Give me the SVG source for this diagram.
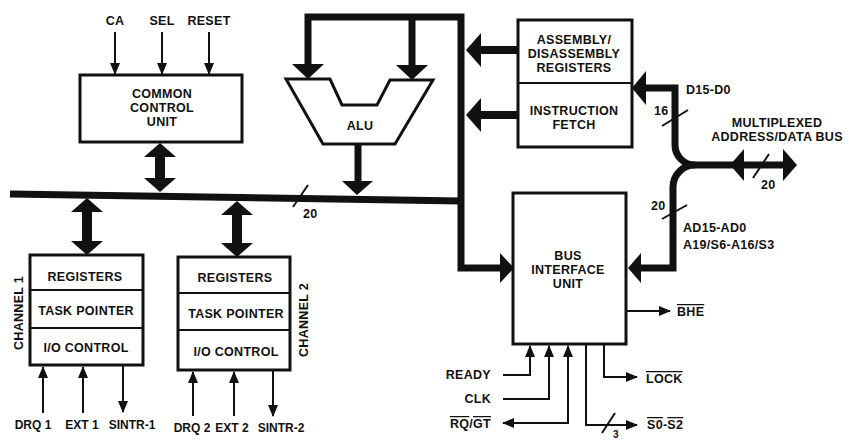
<svg xmlns="http://www.w3.org/2000/svg" width="848" height="440" viewBox="0 0 848 440">
<style>
.t{font-family:"Liberation Sans",Arial,sans-serif;font-weight:bold;font-size:12.5px;letter-spacing:0.3px;fill:#111}
.s{font-size:12px;letter-spacing:0}
.m{text-anchor:middle}
.e{text-anchor:end}
.box{fill:#fff;stroke:#111;stroke-width:3}
.div{stroke:#111;stroke-width:2}
.thin{fill:none;stroke:#111;stroke-width:2}
.bus{fill:none;stroke:#111;stroke-width:7}
.head{fill:#111}
.ov{text-decoration:overline}
</style>
<defs>
<marker id="ah" markerWidth="12" markerHeight="10" refX="11" refY="5" orient="auto-start-reverse" markerUnits="userSpaceOnUse"><path d="M0,0 L12,5 L0,10 Z" fill="#111"/></marker>
</defs>

<g id="connectors">
  <!-- main internal bus -->
  <line class="bus" x1="10" y1="194" x2="461" y2="201"/>
  <path class="bus" d="M308,66 V17 H461 V268 H501"/>
  <path class="bus" d="M412,17 V66"/>
  <polygon class="head" points="292,64 324,64 308,79"/>
  <polygon class="head" points="396,65 428,65 412,80"/>
  <polygon class="head" points="500,253 514,268 500,283"/>
  <!-- ALU output -->
  <path class="bus" d="M358,144 V182"/>
  <polygon class="head" points="342,181 373,181 357,195"/>
  <!-- bus slash 20 -->
  <line class="thin" x1="293" y1="207" x2="308" y2="185"/>
  <text class="t" x="303" y="218">20</text>
  <!-- CCU double arrow -->
  <polygon class="head" points="160,143 176,157 165,157 165,178 176,178 160,192 144,178 155,178 155,157 144,157"/>
  <!-- channel 1 double arrow -->
  <polygon class="head" points="87,198 103,212 92,212 92,241 103,241 87,255 71,241 82,241 82,212 71,212"/>
  <!-- channel 2 double arrow -->
  <polygon class="head" points="237,201 253,215 242,215 242,243 253,243 237,257 221,243 232,243 232,215 221,215"/>
  <!-- assembly / fetch arrows -->
  <path class="bus" d="M479,50 H518" style="stroke-width:8"/>
  <polygon class="head" points="481,33 466,50 481,67"/>
  <path class="bus" d="M479,115 H518" style="stroke-width:8"/>
  <polygon class="head" points="481,98 466,115 481,132"/>
  <!-- external bus -->
  <path class="bus" d="M644,88 H675 V145 A20,20 0 0 0 695,165 H784"/>
  <path class="bus" d="M695,165 A22,22 0 0 0 673,187 V268 H640"/>
  <polygon class="head" points="646,71 632,88 646,105"/>
  <polygon class="head" points="641,253 628,268 641,283"/>
  <polygon class="head" points="783,149 797,165 783,181"/>
  <polygon class="head" points="744,149 730,165 744,181"/>
  <line class="thin" x1="662" y1="126" x2="688" y2="110"/>
  <line class="thin" x1="662" y1="219" x2="687" y2="205"/>
  <line class="thin" x1="753" y1="178" x2="769" y2="154"/>
  <!-- CCU inputs -->
  <line class="thin" x1="115" y1="32" x2="115" y2="74" marker-end="url(#ah)"/>
  <line class="thin" x1="162" y1="32" x2="162" y2="74" marker-end="url(#ah)"/>
  <line class="thin" x1="209" y1="32" x2="209" y2="74" marker-end="url(#ah)"/>
  <!-- channel 1 signals -->
  <line class="thin" x1="43" y1="413" x2="43" y2="367" marker-end="url(#ah)"/>
  <line class="thin" x1="83" y1="413" x2="83" y2="367" marker-end="url(#ah)"/>
  <line class="thin" x1="123" y1="366" x2="123" y2="412" marker-end="url(#ah)"/>
  <!-- channel 2 signals -->
  <line class="thin" x1="193" y1="416" x2="193" y2="372" marker-end="url(#ah)"/>
  <line class="thin" x1="234" y1="416" x2="234" y2="372" marker-end="url(#ah)"/>
  <line class="thin" x1="273" y1="371" x2="273" y2="416" marker-end="url(#ah)"/>
  <!-- BIU signals -->
  <path class="thin" d="M503,375 H530 V346" marker-end="url(#ah)"/>
  <path class="thin" d="M503,399 H549 V346" marker-end="url(#ah)"/>
  <path class="thin" d="M503,423 H568 V346" marker-start="url(#ah)" marker-end="url(#ah)"/>
  <path class="thin" d="M586,345 V425 H637" marker-end="url(#ah)"/>
  <path class="thin" d="M604,345 V377 H637" marker-end="url(#ah)"/>
  <path class="thin" d="M627,311 H670" marker-end="url(#ah)"/>
  <line class="thin" x1="602" y1="433" x2="615" y2="413"/>
  <text class="t" x="613" y="438" style="font-size:10px">3</text>
</g>

<g id="ccu">
  <rect class="box" x="80" y="75" width="162" height="67"/>
  <text class="t m" x="162" y="98">COMMON</text>
  <text class="t m" x="162" y="112">CONTROL</text>
  <text class="t m" x="162" y="126">UNIT</text>
  <text class="t m" x="115" y="25">CA</text>
  <text class="t m" x="162" y="25">SEL</text>
  <text class="t m" x="209" y="25">RESET</text>
</g>

<g id="alu">
  <polygon points="286,79 330,79 342,105 377,105 390,80 433,80 395,144 323,144" fill="#fff" stroke="#111" stroke-width="3" stroke-linejoin="miter"/>
  <text class="t m" x="360" y="130">ALU</text>
</g>

<g id="assembly">
  <rect class="box" x="518" y="20" width="114" height="127"/>
  <line class="div" x1="518" y1="83" x2="632" y2="83"/>
  <text class="t m" x="574" y="44">ASSEMBLY/</text>
  <text class="t m" x="574" y="58">DISASSEMBLY</text>
  <text class="t m" x="574" y="72">REGISTERS</text>
  <text class="t m" x="574" y="115">INSTRUCTION</text>
  <text class="t m" x="574" y="129">FETCH</text>
</g>

<g id="biu">
  <rect class="box" x="513" y="193" width="113" height="151"/>
  <text class="t m" x="568" y="260">BUS</text>
  <text class="t m" x="568" y="274">INTERFACE</text>
  <text class="t m" x="568" y="288">UNIT</text>
  <text class="t" x="677" y="316"><tspan class="ov">BHE</tspan></text>
  <text class="t e" x="491" y="379">READY</text>
  <text class="t e" x="491" y="403">CLK</text>
  <text class="t e" x="491" y="428"><tspan class="ov">RQ</tspan>/<tspan class="ov">GT</tspan></text>
  <text class="t" x="646" y="383"><tspan class="ov">LOCK</tspan></text>
  <text class="t" x="647" y="429"><tspan class="ov">S0</tspan>-<tspan class="ov">S2</tspan></text>
</g>

<g id="extbus">
  <text class="t" x="686" y="94">D15-D0</text>
  <text class="t" x="654" y="115">16</text>
  <text class="t m" x="777" y="127">MULTIPLEXED</text>
  <text class="t m" x="777" y="141">ADDRESS/DATA BUS</text>
  <text class="t" x="761" y="189">20</text>
  <text class="t" x="651" y="210">20</text>
  <text class="t" x="683" y="232">AD15-AD0</text>
  <text class="t" x="683" y="249">A19/S6-A16/S3</text>
</g>

<g id="channel1">
  <rect class="box" x="30" y="255" width="113" height="110"/>
  <line class="div" x1="30" y1="290" x2="143" y2="290"/>
  <line class="div" x1="30" y1="328" x2="143" y2="328"/>
  <text class="t m" x="85" y="281">REGISTERS</text>
  <text class="t m" x="86" y="315">TASK POINTER</text>
  <text class="t m" x="86" y="352">I/O CONTROL</text>
  <text class="t m" transform="translate(23,313) rotate(-90)">CHANNEL 1</text>
  <text class="t s m" x="33" y="429">DRQ 1</text>
  <text class="t s m" x="82" y="429">EXT 1</text>
  <text class="t s m" x="132" y="429">SINTR-1</text>
</g>

<g id="channel2">
  <rect class="box" x="178" y="257" width="112" height="113"/>
  <line class="div" x1="178" y1="293" x2="290" y2="293"/>
  <line class="div" x1="178" y1="330" x2="290" y2="330"/>
  <text class="t m" x="235" y="282">REGISTERS</text>
  <text class="t m" x="236" y="318">TASK POINTER</text>
  <text class="t m" x="236" y="356">I/O CONTROL</text>
  <text class="t m" transform="translate(308,320) rotate(-90)">CHANNEL 2</text>
  <text class="t s m" x="192" y="432">DRQ 2</text>
  <text class="t s m" x="232" y="432">EXT 2</text>
  <text class="t s m" x="281" y="432">SINTR-2</text>
</g>
</svg>
